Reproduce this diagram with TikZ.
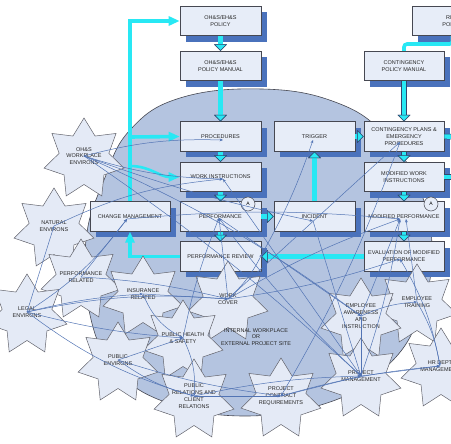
\documentclass[tikz,border=0pt]{standalone}
\usepackage{fontspec}
\setmainfont{Liberation Sans}
\usetikzlibrary{arrows.meta,shadows,calc}
\definecolor{boxfill}{RGB}{231,237,248}
\definecolor{starfill}{RGB}{228,234,246}
\definecolor{blobfill}{RGB}{180,196,224}
\definecolor{shadowc}{RGB}{74,114,188}
\definecolor{cyanc}{RGB}{40,232,244}
\definecolor{arrline}{RGB}{50,70,110}
\definecolor{conn}{RGB}{82,116,180}
\definecolor{edgec}{RGB}{70,72,82}
\newcommand{\lblfont}{\fontsize{5.5}{6.8}\selectfont}
\newcommand{\septstar}[2]{%
  \draw[starsty] plot[variable=\k, samples at={0,...,13}]
    ({#1+ifthenelse(mod(\k,2)==0,41,25.5)*cos(-90+\k*360/14)},
     {#2+ifthenelse(mod(\k,2)==0,41,25.5)*sin(-90+\k*360/14)}) -- cycle;}
\tikzset{
  bx/.style={draw=edgec, fill=boxfill, line width=0.6pt, minimum width=81pt,
    minimum height=29.5pt, inner sep=1pt, align=center, font=\lblfont, text=black!85,
    drop shadow={opacity=1, fill=shadowc, shadow xshift=6pt, shadow yshift=-6pt}},
  circa/.style={circle, draw=edgec, fill=boxfill, line width=0.5pt, minimum size=14pt,
    inner sep=0pt, font=\fontsize{5}{6}\selectfont},
  starsty/.style={draw=edgec!85, fill=starfill, line width=0.5pt},
  startxt/.style={align=center, font=\lblfont, inner sep=0pt, text=black!85},
  blobsty/.style={draw=edgec, fill=blobfill, line width=0.6pt},
  cn/.style={draw=conn, line width=0.5pt, -{Stealth[length=3.4pt,width=2.8pt]}},
  barr/.style={draw=cyanc, line width=4.4pt,
    -{Triangle[length=6.5pt,width=12.5pt,fill=cyanc,color=arrline,line width=0.5pt]},
    preaction={draw=arrline, line width=5.4pt,
      -{Triangle[length=6.5pt,width=12.5pt,fill=cyanc,color=arrline,line width=0.5pt]}}},
  cyl/.style={draw=cyanc, line width=3.6pt},
  cyla/.style={cyl, -{Triangle[length=11pt,width=9pt]}},
}
\begin{document}
\begin{tikzpicture}[x=1pt,y=-1pt]
\useasboundingbox (0,0) rectangle (451,444);
\clip (0,0) rectangle (451,444);

% background blob
\draw[blobsty] plot[smooth cycle, tension=0.7] coordinates {(86,240) (104,180) (130,130) (180,98) (262,89) (335,102) (385,135) (420,190) (432,255) (418,320) (385,368) (330,402) (245,416) (165,402) (115,368) (90,315)};

% boxes
\node[bx] (pol) at (220.5,21) {OH\&S/EH\&S\\POLICY};
\node[bx] (man) at (220.5,66) {OH\&S/EH\&S\\POLICY MANUAL};
\node[bx] (proc) at (220.5,136.5) {PROCEDURES};
\node[bx] (work) at (220.5,177) {WORK INSTRUCTIONS};
\node[bx] (perf) at (220.5,216.5) {PERFORMANCE};
\node[bx] (rev) at (220.5,256.5) {PERFORMANCE REVIEW};
\node[bx, minimum width=80pt] (chg) at (130,216.5) {CHANGE MANAGEMENT};
\node[bx] (trig) at (314.5,136.5) {TRIGGER};
\node[bx] (inc) at (314.5,216.5) {INCIDENT};
\node[bx] (risk) at (452.5,21) {RISK\\POLICY};
\node[bx, minimum width=80pt] (cpm) at (404,66) {CONTINGENCY\\POLICY MANUAL};
\node[bx, minimum width=80pt] (cpl) at (404,136.5) {CONTINGENCY PLANS \&\\EMERGENCY\\PROCEDURES};
\node[bx, minimum width=80pt] (mwi) at (404,177) {MODIFIED WORK\\INSTRUCTIONS};
\node[bx, minimum width=80pt] (mp) at (404,216.5) {MODIFIED PERFORMANCE};
\node[bx, minimum width=80pt] (eval) at (404,256.5) {EVALUATION OF MODIFIED\\PERFORMANCE};
\node[circa] (ca) at (248,204) {A};
\node[circa] (cb) at (431,204) {A};

% cyan block arrows
\coordinate (stubA) at (472,137);
\coordinate (stubB) at (472,177);
\draw[barr] (pol.south) -- (man.north);
\draw[barr] (man.south) -- (proc.north);
\draw[barr] (proc.south) -- (work.north);
\draw[barr] (work.south) -- (perf.north);
\draw[barr] (perf.south) -- (rev.north);
\draw[barr] (cpm.south) -- (cpl.north);
\draw[barr] (cpl.south) -- (mwi.north);
\draw[barr] (mwi.south) -- (mp.north);
\draw[barr] (mp.south) -- (eval.north);
\draw[barr] (perf.east) -- (inc.west);
\draw[barr] (trig.east) -- (cpl.west);
\draw[barr] (inc.north) -- (trig.south);
\draw[barr] (eval.west) -- (rev.east);
\draw[barr] (cpl.east) -- (stubA);
\draw[barr] (mwi.east) -- (stubB);

% cyan feedback lines
\coordinate (j1) at (130,137);
\coordinate (j2) at (130,166);
\draw[cyla] (chg.north) |- (pol.west);
\draw[cyla] (j1) -- (proc.west);
\draw[cyla, line width=2.6pt] (j2) to[out=0,in=180] (work.west);
\draw[cyla] (rev.west) -| (chg.south);
\draw[cyl, rounded corners=3pt] (risk.south) -- ++(0,8) -| (cpm.north);

% stars
\septstar{84}{159}
\septstar{54}{229}
\septstar{81}{280}
\septstar{27}{315}
\septstar{143}{297}
\septstar{228}{302}
\septstar{417}{305}
\septstar{361}{319}
\septstar{183}{341}
\septstar{118}{363}
\septstar{361}{379}
\septstar{441}{369}
\septstar{194}{400}
\septstar{281}{399}

\node[startxt] (sOHS) at (84,156) {OH\&S\\WORKPLACE\\ENVIRONS};
\node[startxt] (sNAT) at (54,226) {NATURAL\\ENVIRONS};
\node[startxt] (sPRR) at (81,277) {PERFORMANCE\\RELATED};
\node[startxt] (sLEG) at (27,312) {LEGAL\\ENVIRONS};
\node[startxt] (sINS) at (143,294) {INSURANCE\\RELATED};
\node[startxt] (sWC) at (228,299) {WORK\\COVER};
\node[startxt] (sETR) at (417,302) {EMPLOYEE\\TRAINING};
\node[startxt] (sEAI) at (361,316) {EMPLOYEE\\AWARENESS\\AND\\INSTRUCTION};
\node[startxt] (sPHS) at (183,338) {PUBLIC HEALTH\\\& SAFETY};
\node[startxt] (sPEN) at (118,360) {PUBLIC\\ENVIRONS};
\node[startxt] (sPMG) at (361,376) {PROJECT\\MANAGEMENT};
\node[startxt] (sHRD) at (440,366) {HR DEPT\\MANAGEMENT};
\node[startxt] (sPRL) at (194,396) {PUBLIC\\RELATIONS AND\\CLIENT\\RELATIONS};
\node[startxt] (sPCR) at (281,396) {PROJECT\\CONTRACT\\REQUIREMENTS};
\node[startxt] (site) at (256,337) {INTERNAL WORKPLACE\\OR\\EXTERNAL PROJECT SITE};

% hubs
\coordinate (hproc) at (223,140);
\coordinate (hwork) at (223,179);
\coordinate (hperf) at (219,218);
\coordinate (hrev) at (262,254);
\coordinate (hchg) at (127,219);
\coordinate (htrig) at (313,140);
\coordinate (hinc) at (313,221);
\coordinate (hcpl) at (400,142);
\coordinate (hmp) at (400,219);
\coordinate (hmp2) at (406,219);
\coordinate (heval) at (400,259);

% thin connectors
\draw[cn] (sOHS.center) to[bend left=8] (hproc);
\draw[cn] (sOHS.center) to[bend right=8] (hwork);
\draw[cn] (sOHS.center) to[bend left=4] (sPMG.center);
\draw[cn] (sOHS.center) to[bend left=6] (sEAI.center);
\draw[cn] (sOHS.center) to[bend right=4] (hinc);
\draw[cn] (sNAT.center) to[bend left=10] (hwork);
\draw[cn] (sLEG.center) -- (sNAT.center);
\draw[cn] (sLEG.center) to[bend right=10] (hchg);
\draw[cn] (sLEG.center) to[bend left=5] (sINS.center);
\draw[cn] (sLEG.center) to[bend left=8] (sWC.center);
\draw[cn] (sLEG.center) to[bend right=5] (sPHS.center);
\draw[cn] (sLEG.center) to[bend right=10] (sPRL.center);
\draw[cn] (sPRR.center) -- (hchg);
\draw[cn] (sPRR.center) to[bend left=5] (sWC.center);
\draw[cn] (sINS.center) -- (sWC.center);
\draw[cn] (sINS.center) to[bend right=20] (sPHS.center);
\draw[cn] (sWC.center) to[bend left=5] (hmp);
\draw[cn] (sWC.center) -- (hcpl);
\draw[cn] (sWC.center) to[bend right=5] (heval);
\draw[cn] (sWC.center) -- (hperf);
\draw[cn] (sWC.center) to[bend right=10] (hrev);
\draw[cn] (sPHS.center) to[bend left=5] (hperf);
\draw[cn] (sPHS.center) to[bend left=15] (sPRL.center);
\draw[cn] (sPEN.center) -- (sPHS.center);
\draw[cn] (sPEN.center) to[bend right=10] (sPRL.center);
\draw[cn] (sPEN.center) to[bend right=5] (sPCR.center);
\draw[cn] (sPRL.center) -- (sPCR.center);
\draw[cn] (sPRL.center) to[bend left=5] (sPMG.center);
\draw[cn] (sPCR.center) -- (sPMG.center);
\draw[cn] (sPCR.center) to[bend left=5] (sHRD.center);
\draw[cn] (sPMG.center) -- (sEAI.center);
\draw[cn] (sPMG.center) -- (sHRD.center);
\draw[cn] (sPMG.center) to[bend right=5] (hmp);
\draw[cn] (sPMG.center) to[bend left=5] (hperf);
\draw[cn] (sPMG.center) -- (hwork);
\draw[cn] (sEAI.center) -- (hmp);
\draw[cn] (sEAI.center) to[bend left=10] (sETR.center);
\draw[cn] (sETR.center) -- (hmp2);
\draw[cn] (sETR.center) to[bend left=10] (sHRD.center);
\draw[cn] (sHRD.center) to[bend right=10] (heval);
\draw[cn] (hrev) to[bend right=5] (htrig);
\draw[cn] (hinc) -- (sPMG.center);
\draw[cn] (hchg) to[bend left=5] (hmp);
\draw[cn] (hperf) -- (sEAI.center);
\draw[cn] (hcpl) to[bend left=5] (sPCR.center);
\end{tikzpicture}
\end{document}
